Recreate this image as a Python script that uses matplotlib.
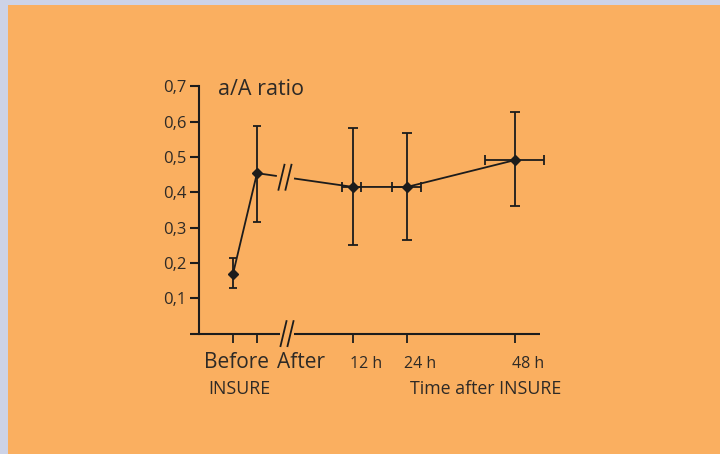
import numpy as np
import matplotlib
matplotlib.use("Agg")
import matplotlib.pyplot as plt
from matplotlib.patches import Rectangle

plt.rcParams['font.family'] = ['Open Sans', 'DejaVu Sans']

# ---- data ----
pre_labels = ['Before', 'After']
pre_values = [0.169, 0.454]
pre_low = [0.130, 0.315]
pre_high = [0.213, 0.587]

hours = [12, 24, 48]
hour_labels = ['12 h', '24 h', '48 h']
post_values = [0.415, 0.415, 0.491]
post_low = [0.251, 0.265, 0.361]
post_high = [0.582, 0.569, 0.626]
hour_err_left = [2.4, 3.4, 6.7]
hour_err_right = [1.8, 3.0, 6.4]

yticks = [0.1, 0.2, 0.3, 0.4, 0.5, 0.6, 0.7]
ytick_labels = ['0,1', '0,2', '0,3', '0,4', '0,5', '0,6', '0,7']

# ---- style ----
BG = '#FAAF60'
BORDER = '#CDD3E7'
INK = '#1c1c1c'
TXT = '#2e2a26'

W, H = 720, 454
fig = plt.figure(figsize=(7.2, 4.54), dpi=100, facecolor=BORDER)
fig.patches.append(Rectangle((8 / W, 0), 1, (H - 5) / H, transform=fig.transFigure,
                             facecolor=BG, edgecolor='none', zorder=-10))

# axes: left at y-axis (px 199), right px 545; y=0 at px 333.6, top 0.72
y0px, pxper = 333.6, 353.4
ax = fig.add_axes([199 / W, (H - y0px) / H, (545 - 199) / W, 0.72 * pxper / H])
ax.set_zorder(5)
ax.set_facecolor('none')
ax.set_xlim(-1.417, 13.0)
ax.set_ylim(0, 0.72)


def hpos(t):
    return 2.75 + 0.1875 * np.asarray(t, dtype=float)


pre_x = np.arange(len(pre_values), dtype=float)
post_x = hpos(hours)
xe_l = hpos(hours) - hpos(np.array(hours) - np.array(hour_err_left))
xe_r = hpos(np.array(hours) + np.array(hour_err_right)) - hpos(hours)

# spines
for s in ['top', 'right', 'bottom']:
    ax.spines[s].set_visible(False)
ax.spines['left'].set_bounds(0, 0.7)
ax.spines['left'].set_linewidth(1.5)
ax.spines['left'].set_color(INK)

ax.set_yticks(yticks)
ax.set_yticklabels(ytick_labels)
ax.tick_params(axis='y', direction='out', length=6.5, width=1.5, color=INK,
               labelsize=12, labelcolor=TXT, pad=2.5)
xt = list(pre_x) + list(post_x)
ax.set_xticks(xt)
ax.set_xticklabels([''] * len(xt))
ax.tick_params(axis='x', direction='out', length=6.5, width=1.3, color=INK)

# x axis line with break
brk_lo, brk_hi = 1.96, 2.54
ax.plot([-1.79, brk_lo], [0, 0], color=INK, lw=1.5, clip_on=False, solid_capstyle='butt')
ax.plot([brk_hi, 12.79], [0, 0], color=INK, lw=1.5, clip_on=False, solid_capstyle='butt')


def slashes(xc, yc):
    dx = 6 / 24.0
    dy = 12.5 / pxper
    for off in (-3.5 / 24.0, 3.5 / 24.0):
        ax.plot([xc + off - dx / 2, xc + off + dx / 2], [yc - dy, yc + dy],
                color=INK, lw=1.3, clip_on=False)


slashes(2.25, 0.0)

# data line with break between After and 12 h
all_x = np.concatenate([pre_x, post_x])
all_y = np.concatenate([pre_values, post_values])
lo_gap, hi_gap = 1.79, 2.58
mask_left = all_x <= lo_gap
mask_right = all_x >= hi_gap
y_lo = np.interp(lo_gap, all_x, all_y)
y_hi = np.interp(hi_gap, all_x, all_y)
ax.plot(np.append(all_x[mask_left], lo_gap), np.append(all_y[mask_left], y_lo),
        color=INK, lw=1.3, zorder=3)
ax.plot(np.insert(all_x[mask_right], 0, hi_gap), np.insert(all_y[mask_right], 0, y_hi),
        color=INK, lw=1.3, zorder=3)
slashes((lo_gap + hi_gap) / 2 - 0.02, (y_lo + y_hi) / 2)

# error bars
pre_yerr = [np.array(pre_values) - np.array(pre_low), np.array(pre_high) - np.array(pre_values)]
ax.errorbar(pre_x, pre_values, yerr=pre_yerr, fmt='D', color=INK, ms=5.5,
            elinewidth=1.3, capsize=3, capthick=1.3, zorder=4)
post_yerr = [np.array(post_values) - np.array(post_low), np.array(post_high) - np.array(post_values)]
ax.errorbar(post_x, post_values, yerr=post_yerr, xerr=[xe_l, xe_r], fmt='D', color=INK,
            ms=5.5, elinewidth=1.3, capsize=3.5, capthick=1.3, zorder=4)

# text
ax.text(-0.625, 0.675, 'a/A ratio', fontsize=15.5, color=TXT, ha='left', va='baseline')
ytxt = (y0px - 368) / pxper
ax.text(pre_x[0] + 3 / 24, ytxt, pre_labels[0], fontsize=15, color=TXT, ha='center',
        va='baseline', clip_on=False)
ax.text(pre_x[1] + 44 / 24, ytxt, pre_labels[1], fontsize=15, color=TXT, ha='center',
        va='baseline', clip_on=False)
for x, lab in zip(post_x, hour_labels):
    ax.text(x - 3 / 24, ytxt, lab, fontsize=11.5, color=TXT, ha='left', va='baseline',
            clip_on=False)
ytxt2 = (y0px - 394.5) / pxper
ax.text((208 - 233) / 24, ytxt2, 'INSURE', fontsize=12.8, color=TXT, ha='left',
        va='baseline', clip_on=False)
ax.text((410 - 233) / 24, ytxt2, 'Time after INSURE', fontsize=12.8, color=TXT, ha='left',
        va='baseline', clip_on=False)

fig.savefig('out.png', dpi=100, facecolor=BORDER)
